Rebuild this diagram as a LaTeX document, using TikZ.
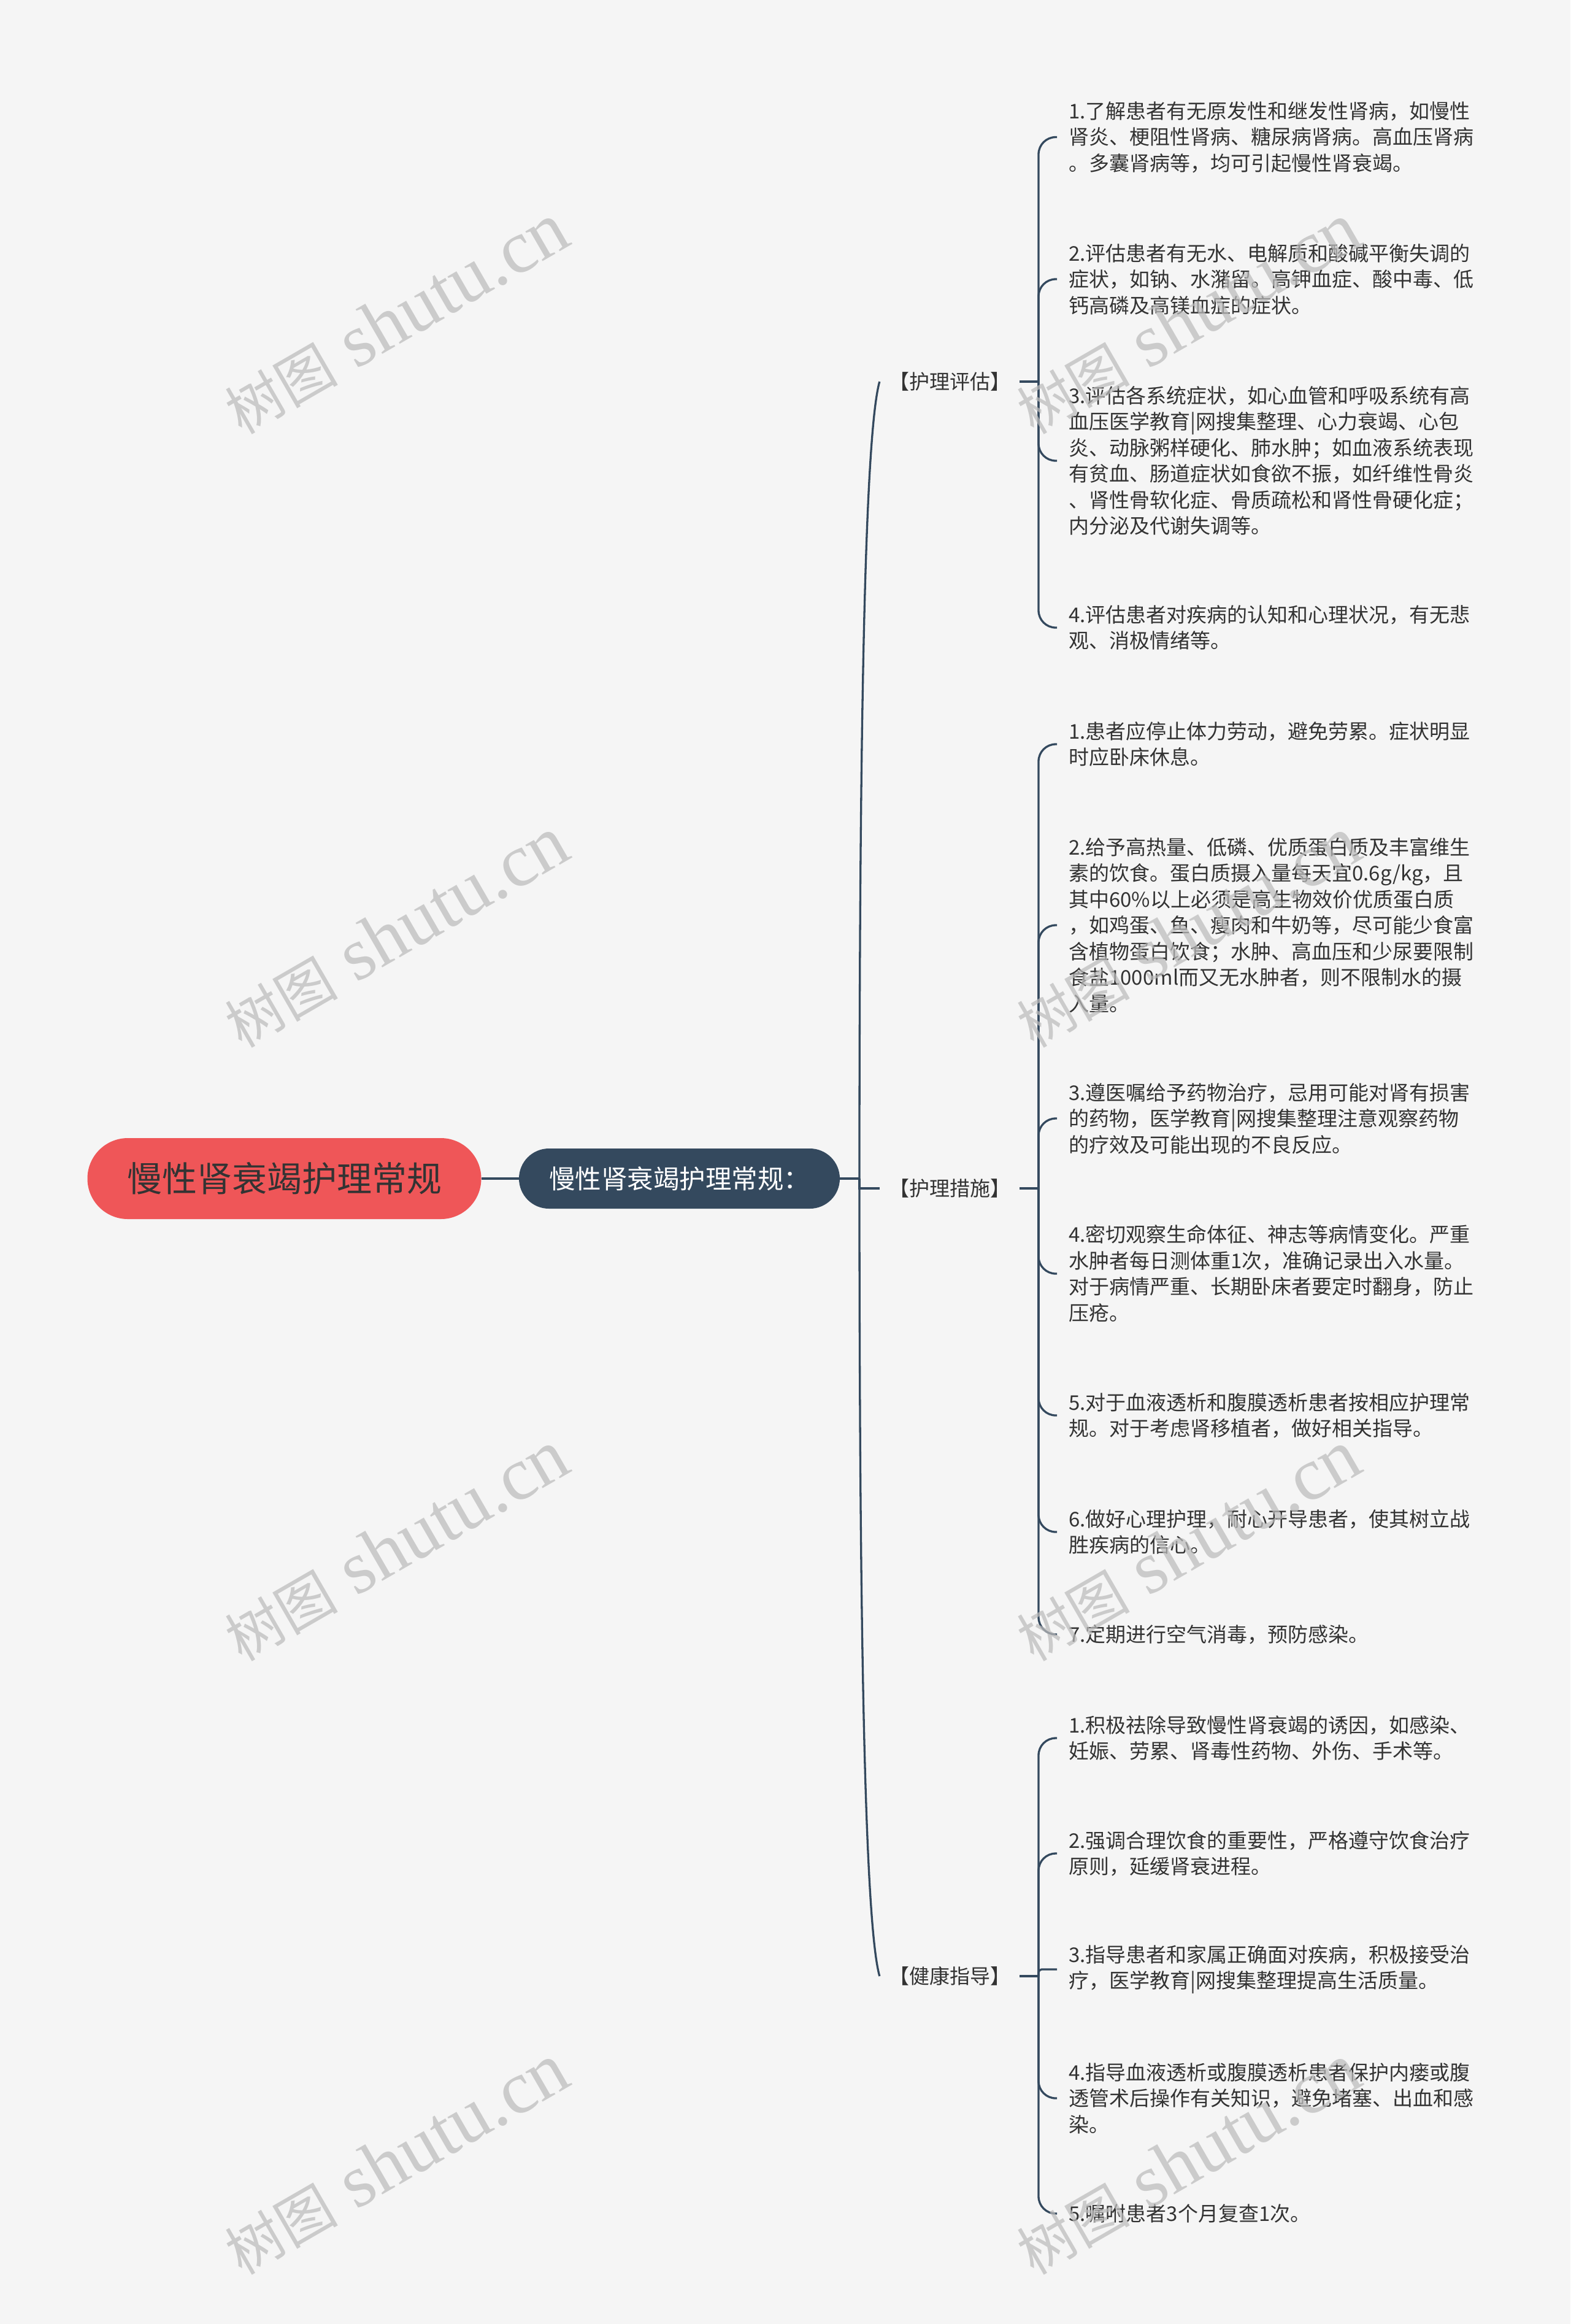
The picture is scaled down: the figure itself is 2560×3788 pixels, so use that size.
\documentclass[tikz,border=0pt]{standalone}
\usepackage{fontspec}
\setmainfont{Noto Sans CJK SC}
\newfontfamily\wmlatin{Liberation Serif}
\newfontfamily\wmcjk{Noto Sans CJK SC}
\definecolor{bgc}{HTML}{F5F5F5}
\definecolor{linec}{HTML}{34495E}
\definecolor{rootc}{HTML}{EF5658}
\definecolor{txt}{HTML}{333333}
\definecolor{wmc}{HTML}{BCBCBC}
\begin{document}
\begin{tikzpicture}[x=1pt,y=-1pt,
  conn/.style={draw=linec, line width=3.3pt},
  rootbox/.style={fill=rootc, rounded corners=65.9pt, minimum width=642pt, minimum height=132pt, inner sep=0pt, text=txt, font=\fontsize{57pt}{68pt}\selectfont},
  mainbox/.style={fill=linec, rounded corners=48.9pt, minimum width=523pt, minimum height=98pt, inner sep=0pt, text=white, font=\fontsize{42.5pt}{50pt}\selectfont},
  catbox/.style={inner xsep=15pt, inner ysep=4pt, text=txt, font=\fontsize{33pt}{42.5pt}\selectfont},
  leafbox/.style={anchor=west, align=left, inner xsep=19pt, inner ysep=0pt, text=txt, font=\fontsize{33pt}{42.5pt}\selectfont},
  wm/.style={rotate=30, text=wmc, text opacity=0.72, inner sep=0pt}
]
\fill[bgc] (0,0) rectangle (2560,3788);
\useasboundingbox (0,0) rectangle (2560,3788);

% main nodes
\node[rootbox] (root) at (463.5,1921) {慢性肾衰竭护理常规};
\node[mainbox] (main) at (1107.5,1921) {慢性肾衰竭护理常规：};

% category nodes
\node[catbox] (c1) at (1548,622) {【护理评估】};
\node[catbox] (c2) at (1548,1937) {【护理措施】};
\node[catbox] (c3) at (1548,3221) {【健康指导】};

% leaves section 1
\node[leafbox] (a1) at (1723,223.5) {1.了解患者有无原发性和继发性肾病，如慢性\\肾炎、梗阻性肾病、糖尿病肾病。高血压肾病\\。多囊肾病等，均可引起慢性肾衰竭。};
\node[leafbox] (a2) at (1723,455) {2.评估患者有无水、电解质和酸碱平衡失调的\\症状，如钠、水潴留。高钾血症、酸中毒、低\\钙高磷及高镁血症的症状。};
\node[leafbox] (a3) at (1723,751) {3.评估各系统症状，如心血管和呼吸系统有高\\血压医学教育|网搜集整理、心力衰竭、心包\\炎、动脉粥样硬化、肺水肿；如血液系统表现\\有贫血、肠道症状如食欲不振，如纤维性骨炎\\、肾性骨软化症、骨质疏松和肾性骨硬化症；\\内分泌及代谢失调等。};
\node[leafbox] (a4) at (1723,1023) {4.评估患者对疾病的认知和心理状况，有无悲\\观、消极情绪等。};

% leaves section 2
\node[leafbox] (b1) at (1723,1213) {1.患者应停止体力劳动，避免劳累。症状明显\\时应卧床休息。};
\node[leafbox] (b2) at (1723,1508) {2.给予高热量、低磷、优质蛋白质及丰富维生\\素的饮食。蛋白质摄入量每天宜0.6g/kg，且\\其中60\%以上必须是高生物效价优质蛋白质\\，如鸡蛋、鱼、瘦肉和牛奶等，尽可能少食富\\含植物蛋白饮食；水肿、高血压和少尿要限制\\食盐1000ml而又无水肿者，则不限制水的摄\\入量。};
\node[leafbox] (b3) at (1723,1823) {3.遵医嘱给予药物治疗，忌用可能对肾有损害\\的药物，医学教育|网搜集整理注意观察药物\\的疗效及可能出现的不良反应。};
\node[leafbox] (b4) at (1723,2076) {4.密切观察生命体征、神志等病情变化。严重\\水肿者每日测体重1次，准确记录出入水量。\\对于病情严重、长期卧床者要定时翻身，防止\\压疮。};
\node[leafbox] (b5) at (1723,2307) {5.对于血液透析和腹膜透析患者按相应护理常\\规。对于考虑肾移植者，做好相关指导。};
\node[leafbox] (b6) at (1723,2497) {6.做好心理护理，耐心开导患者，使其树立战\\胜疾病的信心。};
\node[leafbox] (b7) at (1723,2664) {7.定期进行空气消毒，预防感染。};

% leaves section 3
\node[leafbox] (d1) at (1723,2833) {1.积极祛除导致慢性肾衰竭的诱因，如感染、\\妊娠、劳累、肾毒性药物、外伤、手术等。};
\node[leafbox] (d2) at (1723,3021) {2.强调合理饮食的重要性，严格遵守饮食治疗\\原则，延缓肾衰进程。};
\node[leafbox] (d3) at (1723,3210) {3.指导患者和家属正确面对疾病，积极接受治\\疗，医学教育|网搜集整理提高生活质量。};
\node[leafbox] (d4) at (1723,3420) {4.指导血液透析或腹膜透析患者保护内瘘或腹\\透管术后操作有关知识，避免堵塞、出血和感\\染。};
\node[leafbox] (d5) at (1723,3608) {5.嘱咐患者3个月复查1次。};

% connectors: root to main to trunk
\coordinate (hub) at (1401,1921);
\coordinate (hubm) at (1401,1937);
\draw[conn] (root.east) -- (main.west);
\draw[conn] (main.east) -- (hub);
\draw[conn] (hub) .. controls (1401,1100) and (1412,700) .. (c1.west);
\draw[conn] (hub) -- (hubm) -- (c2.west);
\draw[conn] (hub) .. controls (1401,2742) and (1412,3143) .. (c3.west);

% brackets
\coordinate (k1) at (1693,622);
\coordinate (k2) at (1693,1937);
\coordinate (k3) at (1693,3221);
\draw[conn] (c1.east) -- (k1);
\draw[conn] (c2.east) -- (k2);
\draw[conn] (c3.east) -- (k3);
\foreach \n in {a1,a2,a3,a4}{\draw[conn, rounded corners=28pt] (k1) |- (\n.west);}
\foreach \n in {b1,b2,b3,b4,b5,b6,b7}{\draw[conn, rounded corners=28pt] (k2) |- (\n.west);}
\foreach \n in {d1,d2,d4,d5}{\draw[conn, rounded corners=28pt] (k3) |- (\n.west);}
\draw[conn, rounded corners=5pt] (k3) |- (d3.west);

% watermarks
\foreach \i/\px/\py in {1/646/520,2/646/1520,3/646/2520,4/646/3520,5/1937/520,6/1937/1520,7/1937/2520,8/1937/3520}{
  \node[wm] (w\i) at (\px,\py) {{\wmcjk\fontsize{92pt}{92pt}\selectfont 树图}{\wmlatin\fontsize{122pt}{122pt}\selectfont\ shutu.cn}};
}
\end{tikzpicture}
\end{document}
